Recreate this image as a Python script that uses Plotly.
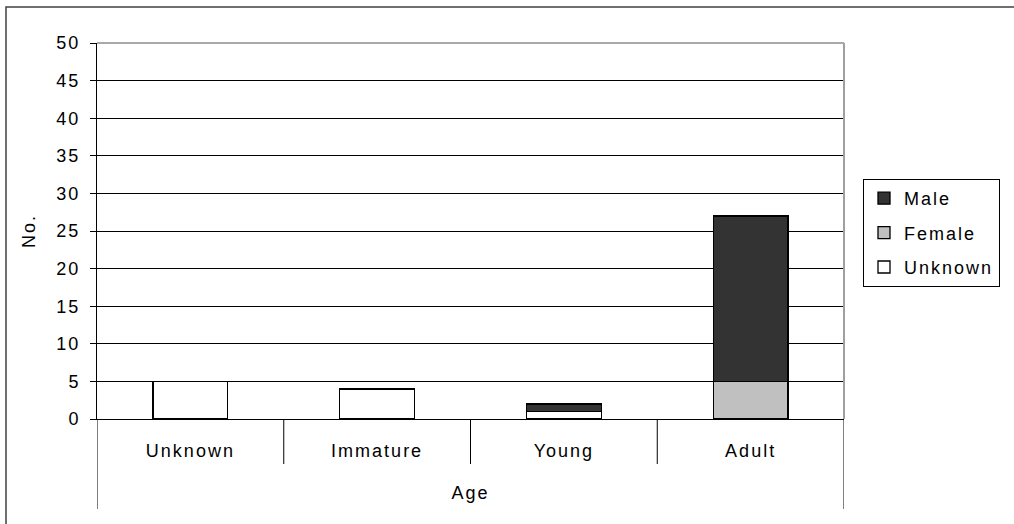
import plotly.graph_objects as go

# Age classes on the x axis and counts per sex (stacked)
categories = ["Unknown", "Immature", "Young", "Adult"]
unknown_sex = [5, 4, 1, 0]
female = [0, 0, 0, 5]
male = [0, 0, 1, 22]
y_ticks = list(range(0, 55, 5))

FONT = "Liberation Sans, Arial, sans-serif"
FS = 18
W, H = 1014, 524
L, R, T, B = 97, 170, 43, 105
PW, PH = W - L - R, H - T - B


def spaced(s):
    """Wide-tracked label text."""
    return f'<span style="letter-spacing:2px">{s}</span>'


fig = go.Figure()
# stacked bottom to top; legend lists top to bottom
series = [
    ("Unknown", unknown_sex, "#FFFFFF", 3),
    ("Female", female, "#C0C0C0", 2),
    ("Male", male, "#333333", 1),
]
for name, vals, color, rank in series:
    fig.add_trace(go.Bar(
        x=categories, y=vals, name=spaced(name), legendgroup=name, legendrank=rank,
        marker=dict(color=color, line=dict(color="#000000", width=1.3)),
        width=0.4,
    ))

shapes = []
# category separators below the axis
for i in range(len(categories) - 1):
    shapes.append(dict(type="line", xref="x", yref="paper",
                       x0=i + 0.5, x1=i + 0.5, y0=0, y1=-45 / PH,
                       line=dict(color="#000000", width=1)))
# outer edges of the category axis block
for xe in (-0.5, len(categories) - 0.5):
    shapes.append(dict(type="line", xref="x", yref="paper",
                       x0=xe, x1=xe, y0=0, y1=-90 / PH,
                       line=dict(color="#000000", width=1)))
# plot area border (top and right in grey)
shapes.append(dict(type="line", xref="paper", yref="paper", x0=0, x1=1, y0=1, y1=1,
                   line=dict(color="#8C8C8C", width=1.5), layer="above"))
shapes.append(dict(type="line", xref="paper", yref="paper", x0=1, x1=1, y0=0, y1=1,
                   line=dict(color="#A0A0A0", width=2), layer="above"))
# chart frame
shapes.append(dict(type="rect", xref="paper", yref="paper",
                   x0=(6 - L) / PW, x1=(1030 - L) / PW,
                   y0=-(540 - T - PH) / PH, y1=(PH + T - 7) / PH,
                   line=dict(color="#404040", width=1.5), fillcolor="rgba(0,0,0,0)"))

fig.update_layout(
    width=W, height=H,
    margin=dict(l=L, r=R, t=T, b=B, autoexpand=False),
    paper_bgcolor="#FFFFFF", plot_bgcolor="#FFFFFF",
    barmode="stack", bargap=0.6,
    font=dict(family=FONT, size=FS, color="#000000"),
    shapes=shapes,
    xaxis=dict(
        type="category", range=[-0.5, len(categories) - 0.5],
        tickvals=categories, ticktext=[spaced(c) for c in categories],
        showline=True, linecolor="#000000", linewidth=1,
        showgrid=False, ticks="", ticklabelstandoff=15,
        tickfont=dict(family=FONT, size=FS),
        title=dict(text=spaced("Age"), font=dict(family=FONT, size=FS), standoff=26),
    ),
    yaxis=dict(
        range=[0, 50], tickvals=y_ticks, ticktext=[spaced(v) for v in y_ticks],
        showline=True, linecolor="#000000", linewidth=1,
        showgrid=True, gridcolor="#000000", gridwidth=1,
        zeroline=False,
        ticks="outside", ticklen=6, tickcolor="#000000",
        ticklabelstandoff=6,
        tickfont=dict(family=FONT, size=FS),
        title=dict(text=spaced("No."), font=dict(family=FONT, size=FS), standoff=16),
    ),
    legend=dict(
        x=(863 - L) / PW, xanchor="left",
        y=(PH + T - 179) / PH, yanchor="top",
        traceorder="grouped", tracegroupgap=8,
        bordercolor="#000000", borderwidth=1, bgcolor="#FFFFFF",
        font=dict(family=FONT, size=FS),
    ),
)

fig.write_html("out.html")
